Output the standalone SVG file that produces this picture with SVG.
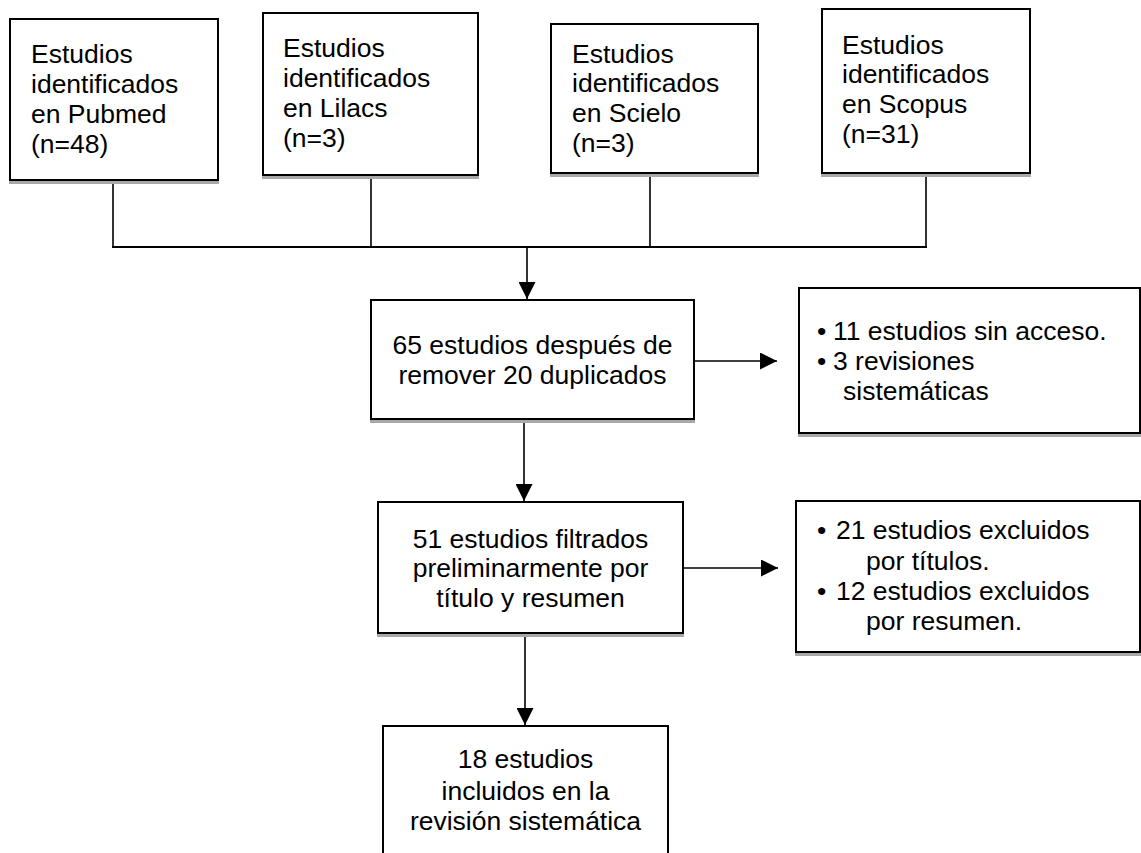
<svg xmlns="http://www.w3.org/2000/svg" width="1141" height="853" viewBox="0 0 1141 853">
<style>
  .box { fill: #ffffff; stroke: #000000; stroke-width: 2; }
  .shadow { fill: #a8a8a8; }
  .t { font-family: "Liberation Sans", Arial, sans-serif; font-size: 26.5px; fill: #000000; }
  .c { text-anchor: middle; }
  .ln { stroke: #000000; stroke-width: 1.6; fill: none; }
  .bus { stroke: #000000; stroke-width: 2; fill: none; }
</style>
<defs>
  <marker id="arr" viewBox="0 0 10 10" refX="10" refY="5" markerWidth="17" markerHeight="17" markerUnits="userSpaceOnUse" orient="auto">
    <path d="M0,0 L10,5 L0,10 Z" fill="#000000"/>
  </marker>
</defs>
<rect width="1141" height="853" fill="#ffffff"/>

<g id="connectors">
  <line class="ln" x1="113" y1="180" x2="113" y2="247"/>
  <line class="ln" x1="371" y1="175" x2="371" y2="247"/>
  <line class="ln" x1="650" y1="173" x2="650" y2="247"/>
  <line class="ln" x1="926" y1="173" x2="926" y2="247"/>
  <line class="bus" x1="112" y1="247" x2="927" y2="247"/>
  <line class="ln" x1="527" y1="247" x2="527" y2="299" marker-end="url(#arr)"/>
  <line class="ln" x1="694" y1="361" x2="777" y2="361" marker-end="url(#arr)"/>
  <line class="ln" x1="524" y1="422" x2="524" y2="501" marker-end="url(#arr)"/>
  <line class="ln" x1="683" y1="568" x2="778" y2="568" marker-end="url(#arr)"/>
  <line class="ln" x1="525" y1="636" x2="525" y2="725" marker-end="url(#arr)"/>
</g>

<g id="pubmed">
  <rect class="shadow" x="9" y="180" width="210" height="4"/>
  <rect class="box" x="10" y="19" width="208" height="161"/>
  <text class="t" x="31" y="63">Estudios</text>
  <text class="t" x="31" y="93">identificados</text>
  <text class="t" x="31" y="123">en Pubmed</text>
  <text class="t" x="31" y="153">(n=48)</text>
</g>

<g id="lilacs">
  <rect class="shadow" x="262" y="175" width="217" height="4"/>
  <rect class="box" x="263" y="13" width="215" height="162"/>
  <text class="t" x="283" y="57">Estudios</text>
  <text class="t" x="283" y="87">identificados</text>
  <text class="t" x="283" y="117">en Lilacs</text>
  <text class="t" x="283" y="147">(n=3)</text>
</g>

<g id="scielo">
  <rect class="shadow" x="550" y="173" width="209" height="4"/>
  <rect class="box" x="551" y="24" width="207" height="149"/>
  <text class="t" x="572" y="63">Estudios</text>
  <text class="t" x="572" y="92">identificados</text>
  <text class="t" x="572" y="122">en Scielo</text>
  <text class="t" x="572" y="152">(n=3)</text>
</g>

<g id="scopus">
  <rect class="shadow" x="821" y="173" width="210" height="4"/>
  <rect class="box" x="822" y="9" width="208" height="164"/>
  <text class="t" x="842" y="54">Estudios</text>
  <text class="t" x="842" y="83">identificados</text>
  <text class="t" x="842" y="113">en Scopus</text>
  <text class="t" x="842" y="143">(n=31)</text>
</g>

<g id="duplicados">
  <rect class="shadow" x="370" y="419" width="325" height="4"/>
  <rect class="box" x="371" y="300" width="323" height="119"/>
  <text class="t c" x="532.5" y="354">65 estudios después de</text>
  <text class="t c" x="532.5" y="384">remover 20 duplicados</text>
</g>

<g id="excluidos1">
  <rect class="shadow" x="798" y="433" width="343" height="4"/>
  <rect class="box" x="799" y="288" width="341" height="145"/>
  <text class="t" x="817" y="340">•</text>
  <text class="t" x="833" y="340">11 estudios sin acceso.</text>
  <text class="t" x="817" y="370">•</text>
  <text class="t" x="833" y="370">3 revisiones</text>
  <text class="t" x="843" y="400">sistemáticas</text>
</g>

<g id="filtrados">
  <rect class="shadow" x="377" y="633" width="307" height="4"/>
  <rect class="box" x="378" y="502" width="305" height="131"/>
  <text class="t c" x="530.5" y="548">51 estudios filtrados</text>
  <text class="t c" x="530.5" y="577">preliminarmente por</text>
  <text class="t c" x="530.5" y="607">título y resumen</text>
</g>

<g id="excluidos2">
  <rect class="shadow" x="795" y="652" width="346" height="4"/>
  <rect class="box" x="796" y="501" width="344" height="151"/>
  <text class="t" x="817" y="539">•</text>
  <text class="t" x="836" y="539">21 estudios excluidos</text>
  <text class="t" x="866" y="570">por títulos.</text>
  <text class="t" x="817" y="600">•</text>
  <text class="t" x="836" y="600">12 estudios excluidos</text>
  <text class="t" x="866" y="630">por resumen.</text>
</g>

<g id="incluidos">
  <rect class="box" x="383" y="726" width="285" height="140"/>
  <text class="t c" x="525.5" y="768">18 estudios</text>
  <text class="t c" x="525.5" y="800">incluidos en la</text>
  <text class="t c" x="525.5" y="830">revisión sistemática</text>
</g>
</svg>
